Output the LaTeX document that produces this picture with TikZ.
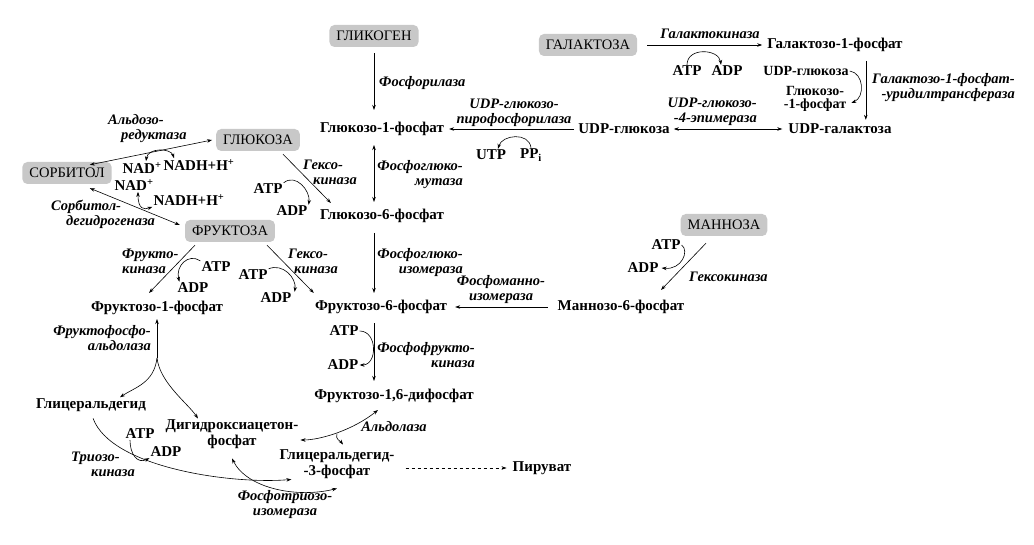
\documentclass[tikz,border=0pt]{standalone}
\usepackage{fontspec}
\setmainfont{Liberation Serif}
\usepackage{tikz}
\usetikzlibrary{arrows.meta}
\definecolor{boxgray}{RGB}{200,200,200}
\newcommand\metfont{\fontsize{15}{15.5}\selectfont\bfseries}
\newcommand\boxfont{\fontsize{14.5}{15}\selectfont}
\newcommand\smfont{\fontsize{14}{12.5}\selectfont\bfseries}
\newcommand\enzfont{\fontsize{14.5}{15}\selectfont\bfseries\itshape}

\begin{document}
\begin{tikzpicture}
[sb/.style={rounded corners=5pt,fill=boxgray,font=\boxfont,inner xsep=7pt,minimum height=22pt}
,mt/.style={font=\metfont,inner sep=1pt,align=center}
,ms/.style={font=\smfont,inner sep=1pt,align=center}
,en/.style={font=\enzfont,inner sep=1pt}
,re/.style={draw=black,line width=0.6pt,arrows={-Stealth[length=5pt,width=3.5pt]}}
,rb/.style={re,arrows={Stealth[length=5pt,width=3.5pt]-Stealth[length=5pt,width=3.5pt]}}
,x=1pt,y=-1pt]
\useasboundingbox (0,0) rectangle (1034,545);
% sugars
\node[sb] (glycogen) at (374,36) {ГЛИКОГЕН};
\node[sb] (galactose) at (588,45) {ГАЛАКТОЗА};
\node[sb] (glucose) at (258,140) {ГЛЮКОЗА};
\node[sb] (sorbitol) at (67,173) {СОРБИТОЛ};
\node[sb] (fructose) at (230,231) {ФРУКТОЗА};
\node[sb] (mannose) at (724,225) {МАННОЗА};
% metabolites
\node[mt] (g1p) at (382,129) {Глюкозо-1-фосфат};
\node[mt] (g6p) at (382,216) {Глюкозо-6-фосфат};
\node[mt] (f6p) at (381,307) {Фруктозо-6-фосфат};
\node[mt] (f16p) at (394,396) {Фруктозо-1,6-дифосфат};
\node[mt] (m6p) at (621,307) {Маннозо-6-фосфат};
\node[mt] (udpglc) at (624,129) {UDP-глюкоза};
\node[mt] (udpgal) at (840,129) {UDP-галактоза};
\node[mt] (gal1p) at (835,45) {Галактозо-1-фосфат};
\node[ms] (udpglc2) at (806,71) {UDP-глюкоза};
\node[ms] (g1p2) at (815,99) {Глюкозо-\\-1-фосфат};
\node[mt] (f1p) at (157,308) {Фруктозо-1-фосфат};
\node[mt] (glyald) at (91,405) {Глицеральдегид};
\node[mt] (dhap) at (232,434) {Дигидроксиацетон-\\фосфат};
\node[mt] (g3p) at (337,464) {Глицеральдегид-\\-3-фосфат};
\node[mt] (pyr) at (542,468) {Пируват};
% cofactors
\node[mt] (galATP) at (687,71) {ATP};
\node[mt] (galADP) at (727,71) {ADP};
\node[mt] (utp) at (491,155) {UTP};
\node[mt] (ppi) at (531,155) {PP\textsubscript{i}};
\node[mt] (gATP) at (268,189) {ATP};
\node[mt] (gADP) at (292,211) {ADP};
\node[mt] (nad1) at (142,168) {NAD\textsuperscript{+}};
\node[mt] (nadh1) at (199,165) {NADH+H\textsuperscript{+}};
\node[mt] (nad2) at (134,185) {NAD\textsuperscript{+}};
\node[mt] (nadh2) at (189,200) {NADH+H\textsuperscript{+}};
\node[mt] (fkATP) at (216,267) {ATP};
\node[mt] (fkADP) at (193,288) {ADP};
\node[mt] (hkATP) at (253,275) {ATP};
\node[mt] (hkADP) at (276,298) {ADP};
\node[mt] (pATP) at (344,331) {ATP};
\node[mt] (pADP) at (343,365) {ADP};
\node[mt] (mATP) at (666,245) {ATP};
\node[mt] (mADP) at (643,268) {ADP};
\node[mt] (tATP) at (140,434) {ATP};
\node[mt] (tADP) at (166,452) {ADP};
% enzymes
\node[en,anchor=west] (phos) at (378,83) {Фосфорилаза};
\node[en,anchor=east,align=right] (pgm) at (464,175) {Фосфоглюко-\\мутаза};
\node[en,anchor=east,align=right] (pgi) at (464,263) {Фосфоглюко-\\изомераза};
\node[en,anchor=east,align=right] (pfk) at (476,355) {Фосфофрукто-\\киназа};
\node[en,align=center] (ugp) at (514,113) {UDP-глюкозо-\\пирофосфорилаза};
\node[en] (galk) at (710,34) {Галактокиназа};
\node[en,anchor=east,align=right] (galt) at (1016,88) {Галактозо-1-фосфат-\\-уридилтрансфераза};
\node[en,anchor=east,align=right] (gale) at (758,112) {UDP-глюкозо-\\-4-эпимераза};
\node[en,anchor=west] (mhk) at (688,277) {Гексокиназа};
\node[en,align=center] (pmi) at (501,290) {Фосфоманно-\\изомераза};
\node[en,anchor=west,align=left] (ghk) at (302,172) {Гексо-\\\hspace*{10pt}киназа};
\node[en,anchor=west,align=left] (fhk) at (287,261) {Гексо-\\\hspace*{6pt}киназа};
\node[en,anchor=west,align=left] (fk) at (121,261) {Фрукто-\\киназа};
\node[en,anchor=west,align=left] (ar) at (107,129) {Альдозо-\\\hspace*{13pt}редуктаза};
\node[en,anchor=west,align=left] (sdh) at (50,214) {Сорбитол-\\\hspace*{15pt}дегидрогеназа};
\node[en,anchor=east,align=right] (fpa) at (152,338) {Фруктофосфо-\\альдолаза};
\node[en] (ald) at (394,427) {Альдолаза};
\node[en,anchor=west,align=left] (tk) at (70,464) {Триозо-\\\hspace*{20pt}киназа};
\node[en,align=center] (tpi) at (285,505) {Фосфотриозо-\\изомераза};
% main chain
\draw[re,shorten <=6pt,shorten >=11pt] (glycogen.south) -- (glycogen.south |- g1p.north);
\draw[rb,shorten <=8pt,shorten >=6pt] (glycogen |- g1p.south) -- (glycogen |- g6p.north);
\draw[re,shorten <=9pt,shorten >=6pt] (glycogen |- g6p.south) -- (glycogen |- f6p.north);
\draw[re,shorten <=8pt,shorten >=7pt] (glycogen |- f6p.south) -- (glycogen |- f16p.north);
\draw[re] (pATP.east) .. controls +(18,0) and +(18,0) .. (pADP.east);
% UDP-glucose and galactose
\draw[re,shorten <=3pt,shorten >=4pt] (udpglc.west) -- (g1p.east);
\draw[re] (ppi.north) .. controls +(-2,-16) and +(4,-14) .. ([xshift=7pt]utp.north);
\draw[rb,shorten <=3pt,shorten >=5pt] (udpglc.east) -- (udpgal.west);
\draw[re,shorten <=10pt,shorten >=4pt] (galactose.east) -- (gal1p.west);
\draw[re] (galATP.north) .. controls +(0,-18) and +(-2,-16) .. ([xshift=-6pt]galADP.north);
\draw[re,shorten <=8pt,shorten >=3pt] ([xshift=-38pt]gal1p.south east) -- ([xshift=-38pt]gal1p.south east |- udpgal.north);
\draw[re] (udpglc2.east) .. controls +(14,2) and +(14,-6) .. ([xshift=4pt,yshift=-4pt]g1p2.east);
% mannose
\draw[re] ([xshift=-18pt,yshift=-7pt]mannose.south) -- ([xshift=40pt,yshift=9pt]m6p.north);
\draw[re] (mATP.east) .. controls +(8,6) and +(20,2) .. ([xshift=2pt]mADP.east);
\draw[re,shorten <=9pt,shorten >=7pt] (m6p.west) -- (f6p.east);
% glucose, sorbitol, fructose
\draw[re] ([xshift=25pt,yshift=-3pt]glucose.south) -- ([xshift=12pt,yshift=5pt]g6p.north west);
\draw[re] (gATP.north east) .. controls +(12,-10) and +(2,-14) .. (gADP.north east);
\draw[rb] ([xshift=-4pt]glucose.west) -- ([xshift=-22pt,yshift=-3pt]sorbitol.north east);
\draw[rb] ([xshift=4pt]nad1.north) .. controls +(2,-14) and +(-3,-10) .. ([xshift=-25pt]nadh1.north);
\draw[rb] ([xshift=-22pt,yshift=-4pt]sorbitol.south east) -- ([xshift=-5pt,yshift=6pt]fructose.west);
\draw[rb] ([xshift=4pt]nad2.south) .. controls +(0,18) and +(-8,3) .. (nadh2.south west);
\draw[re] ([xshift=-35pt,yshift=-3pt]fructose.south) -- ([xshift=-8pt,yshift=7pt]f1p.north);
\draw[re] (fkATP.north west) .. controls +(-12,-8) and +(-4,-16) .. ([xshift=3pt]fkADP.north west);
\draw[re] ([xshift=37pt,yshift=-3pt]fructose.south) -- ([yshift=6pt]f6p.north west);
\draw[re] (hkATP.north east) .. controls +(14,-6) and +(2,-14) .. ([xshift=2pt]hkADP.north east);
% trioses
\coordinate (fork) at ([yshift=-42pt]f1p.south);
\draw[re,shorten >=3pt] (fork) -- (f1p.south);
\draw[re] (fork) .. controls +(-3,25) and +(15,-10) .. ([xshift=29pt]glyald.north);
\draw[re] (fork) .. controls +(3,25) and +(-10,-15) .. ([xshift=-34pt]dhap.north);
\draw[re,shorten <=6pt] (glyald.south) .. controls +(20,55) and +(-60,5) .. ([xshift=13pt]g3p.south west);
\draw[re] ([xshift=-10pt]tATP.south) .. controls +(0,14) and +(-12,6) .. (tADP.south west);
\draw[rb] ([yshift=-9pt]dhap.south) .. controls +(15,30) and +(-40,10) .. ([yshift=-9pt]g3p.south);
\draw[rb] ([xshift=-16pt,yshift=-6pt]f16p.south) .. controls +(-25,20) and +(20,0) .. ([xshift=1pt,yshift=-6pt]dhap.east);
\draw[re] ([yshift=15pt]g3p.north) .. controls +(-2,6) and +(-3,-4) .. ([xshift=6pt,yshift=4pt]g3p.north);
\draw[re,dash pattern=on 3pt off 3pt,shorten <=10pt,shorten >=5pt] (g3p.east |- pyr.west) -- (pyr.west);
\end{tikzpicture}
\end{document}
